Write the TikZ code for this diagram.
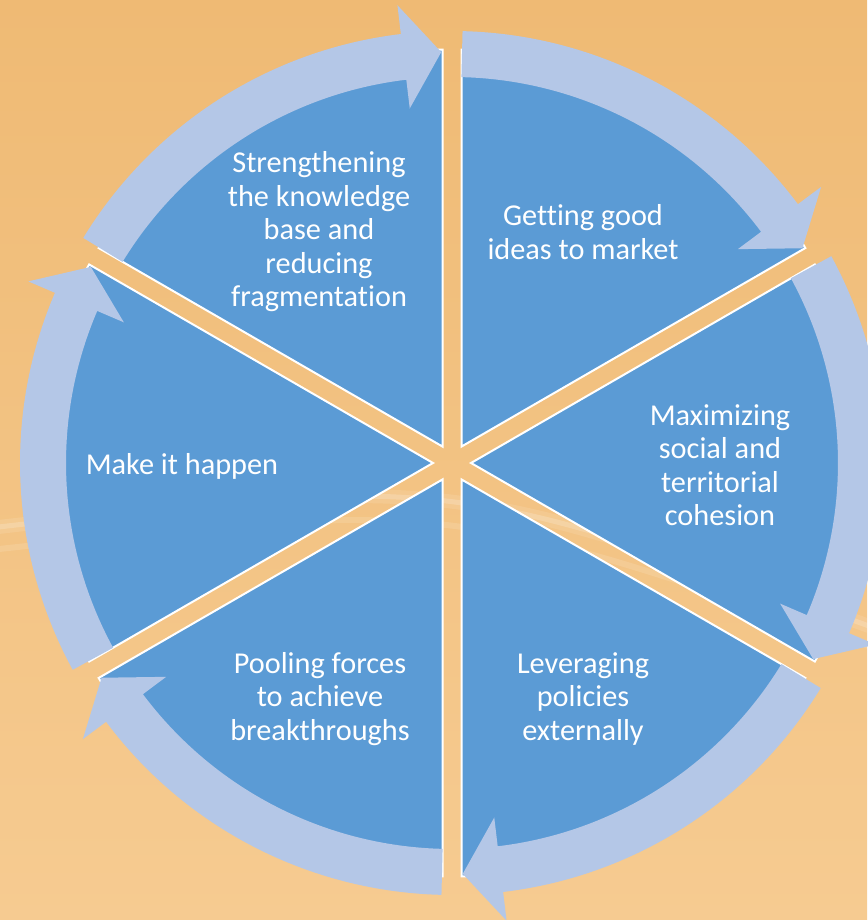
\documentclass[tikz,border=0pt]{standalone}
\usepackage{fontspec}
\setmainfont{Carlito}[Ligatures={NoCommon}]
\definecolor{sliceblue}{RGB}{91,155,213}
\definecolor{ringblue}{RGB}{180,199,231}
\definecolor{bgtop}{RGB}{239,186,116}
\definecolor{bgbottom}{RGB}{246,203,145}
\begin{document}
\begin{tikzpicture}[x=1pt,y=1pt,
  slice/.style={fill=sliceblue, draw=white, line width=2pt, line join=miter},
  ringarrow/.style={fill=ringblue},
  glare/.style={draw=white, line cap=round},
  seglabel/.style={text=white, align=center, inner sep=0pt,
    font=\fontsize{30.3}{33.5}\selectfont}]
\useasboundingbox (0,0) rectangle (867,920);
% warm background
\shade[top color=bgtop, bottom color=bgbottom] (0,0) rectangle (867,920);
% soft light streaks across the background
\draw[glare, line width=14pt, opacity=0.10] (-10,392) .. controls (450,445) .. (880,290);
\draw[glare, line width=5pt, opacity=0.18] (-10,392) .. controls (450,445) .. (880,290);
\draw[glare, line width=6pt, opacity=0.12] (-10,370) .. controls (450,420) .. (880,270);

\begin{scope}[shift={(452,457)}]
  % six exploded pie segments
  \foreach \p in {60,0,-60,-120,180,120} {
    \path[slice] (\p:19) -- ++(\p-30:397)
      arc[start angle=\p-30, end angle=\p+30, radius=397] -- cycle;
  }
  % curved clockwise arrows around the segments
  \foreach \k in {0,...,5} {
    \pgfmathsetmacro\sa{88.6-60*\k}
    \pgfmathsetmacro\ta{31.5-60*\k}
    \pgfmathsetmacro\ba{\ta+5.3}
    \fill[ringarrow] (\sa:432) arc[start angle=\sa, end angle=\ba, radius=432]
      -- (\ba:461) -- (\ta:411) -- (\ba:357) -- (\ba:386)
      arc[start angle=\ba, end angle=\sa, radius=386] -- cycle;
  }
\end{scope}

% segment labels
\node[seglabel] (knowledge) at (319,688) {Strengthening\\the knowledge\\base and\\reducing\\fragmentation};
\node[seglabel] (market) at (583,688) {Getting good\\ideas to market};
\node[seglabel] (cohesion) at (720,455) {Maximizing\\social and\\territorial\\cohesion};
\node[seglabel] (policies) at (583,221) {Leveraging\\policies\\externally};
\node[seglabel] (pooling) at (320,221) {Pooling forces\\to achieve\\breakthroughs};
\node[seglabel] (happen) at (182,454) {Make it happen};
\end{tikzpicture}
\end{document}
